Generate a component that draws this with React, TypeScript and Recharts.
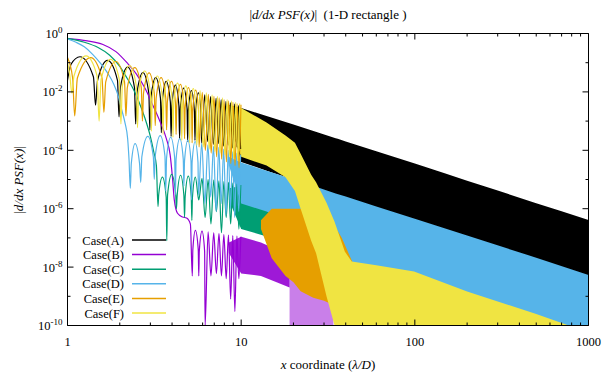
import React from "react";
import { ComposedChart, Line, Area, XAxis, YAxis } from "recharts";

// sparse part of each curve: [x, |d/dx PSF(x)|]
// (dip, shoulder, peak, shoulder) per lobe where the lobes are wide enough to see
const caseA: [number, number][] = [
  [1, 0.025], [1.05, 0.09], [1.18, 0.16], [1.41, 0.033],
  [1.45, 3.5e-3], [1.49, 0.025], [1.7, 0.12], [1.94, 0.025],
  [1.98, 1.4e-3], [2.02, 0.015], [2.22, 0.07], [2.43, 0.014],
  [2.47, 8e-4], [2.51, 0.009], [2.72, 0.046], [2.94, 0.009],
  [2.98, 5e-4], [3.02, 0.006], [3.22, 0.031], [3.43, 0.006],
  [3.47, 4e-4], [3.51, 0.0045], [3.7, 0.023], [3.91, 0.0045],
  [3.95, 3e-4], [3.99, 0.0034], [4.18, 0.017], [4.38, 0.0034],
  [4.42, 2.5e-4], [4.46, 0.0027], [4.67, 0.0135], [4.88, 0.0027],
  [4.92, 2e-4], [4.96, 0.0022], [5.17, 0.011], [5.38, 0.0022],
  [5.42, 2.2e-4], [5.46, 0.0018], [5.67, 0.0092], [5.88, 0.0018],
  [5.92, 1.8e-4], [6.17, 0.0079], [6.42, 2e-4], [6.67, 0.0069], [6.92, 1.6e-4], [7.17, 0.006],
  [7.42, 1.7e-4], [7.67, 0.0053], [7.92, 1.4e-4], [8.17, 0.0047], [8.42, 1.5e-4], [8.67, 0.0042],
  [8.92, 1.2e-4], [9.17, 0.0038], [9.42, 1.3e-4], [9.67, 0.0034], [9.92, 1.1e-4],
];

const caseB: [number, number][] = [
  [1, 0.67], [1.3, 0.56], [1.6, 0.42], [1.9, 0.24], [2.2, 0.1], [2.5, 0.04], [2.8, 0.013],
  [3.1, 3.5e-3], [3.4, 1e-3], [3.7, 2.6e-4], [3.9, 7e-5], [4.02, 1.2e-5], [4.12, 2e-6],
  [4.3, 7e-7], [4.6, 5.2e-7], [4.85, 4.8e-7], [5.1, 3e-7],
  [5.23, 5e-9], [5.27, 4e-8], [5.45, 1.8e-7], [5.66, 4e-8],
  [5.7, 5e-9], [5.74, 3.5e-8], [5.95, 1.7e-7], [6.16, 3.5e-8],
  [6.2, 1e-10], [6.45, 1.6e-7], [6.7, 5e-9], [6.95, 1.5e-7], [7.2, 6e-9], [7.45, 1.4e-7],
  [7.7, 5e-9], [7.95, 1.3e-7], [8.2, 4e-9], [8.45, 1.25e-7], [8.7, 8e-10], [8.95, 1.2e-7],
  [9.2, 3e-10], [9.45, 1.15e-7], [9.7, 4e-9], [9.95, 1.1e-7],
];

const caseC: [number, number][] = [
  [1, 0.68], [1.25, 0.5], [1.5, 0.33], [1.75, 0.18], [2.0, 0.075], [2.2, 0.03], [2.4, 0.012],
  [2.6, 4e-3], [2.8, 1.2e-3], [3.0, 3e-4], [3.15, 8e-5], [3.25, 3e-5],
  [3.32, 1.2e-6], [3.35, 3e-6], [3.52, 1.2e-5], [3.7, 2.5e-6],
  [3.73, 8e-8], [3.77, 3e-6], [3.98, 1.5e-5], [4.2, 3e-6],
  [4.24, 1e-6], [4.28, 2.8e-6], [4.48, 1.4e-5], [4.68, 2.8e-6],
  [4.72, 5e-7], [4.76, 2.6e-6], [4.96, 1.3e-5], [5.16, 2.6e-6],
  [5.2, 4e-7], [5.24, 2.4e-6], [5.45, 1.2e-5], [5.66, 2.4e-6],
  [5.7, 2e-6], [5.95, 1.1e-5], [6.2, 5e-7], [6.45, 1e-5], [6.7, 3e-7], [6.95, 9.5e-6],
  [7.2, 8e-7], [7.45, 9e-6], [7.7, 1.5e-7], [7.95, 8.5e-6], [8.2, 5e-7], [8.45, 8e-6],
  [8.7, 3e-7], [8.95, 7.5e-6], [9.2, 6e-7], [9.45, 7e-6], [9.7, 2e-7], [9.95, 6.5e-6],
];

const caseD: [number, number][] = [
  [1, 0.65], [1.12, 0.5], [1.25, 0.35], [1.4, 0.19], [1.55, 0.095], [1.7, 0.045], [1.85, 0.018],
  [1.95, 8e-3], [2.05, 2.5e-3], [2.15, 8e-4], [2.22, 2.5e-4], [2.26, 5e-5],
  [2.3, 5e-6], [2.33, 3.5e-5], [2.45, 1.7e-4], [2.6, 3.5e-5],
  [2.64, 8e-6], [2.68, 6e-5], [2.9, 3e-4], [3.12, 6e-5],
  [3.16, 1e-5], [3.2, 6.4e-5], [3.42, 3.2e-4], [3.64, 6.4e-5],
  [3.68, 4e-6], [3.72, 5.6e-5], [3.93, 2.8e-4], [4.14, 5.6e-5],
  [4.18, 3e-6], [4.22, 5e-5], [4.43, 2.5e-4], [4.64, 5e-5],
  [4.68, 6e-6], [4.72, 4.4e-5], [4.93, 2.2e-4], [5.14, 4.4e-5],
  [5.18, 2e-6], [5.22, 4e-5], [5.43, 2e-4], [5.64, 4e-5],
  [5.68, 3e-6], [5.93, 1.75e-4], [6.18, 1.5e-6], [6.43, 1.55e-4], [6.68, 2.5e-6],
  [6.93, 1.4e-4], [7.18, 8e-7], [7.43, 1.25e-4], [7.68, 1.5e-6], [7.93, 1.1e-4], [8.18, 6e-7],
  [8.43, 1e-4], [8.68, 1e-6], [8.93, 9e-5], [9.18, 5e-7], [9.43, 8e-5], [9.68, 8e-7],
  [9.93, 7e-5],
];

const caseE: [number, number][] = [
  [1, 0.15], [1.07, 0.03], [1.1, 1.5e-3], [1.14, 0.03], [1.36, 0.15], [1.58, 0.03],
  [1.62, 2e-3], [1.66, 0.022], [1.9, 0.11], [2.13, 0.022],
  [2.17, 1.5e-3], [2.21, 0.014], [2.44, 0.068], [2.66, 0.014],
  [2.7, 1e-3], [2.74, 0.009], [2.95, 0.045], [3.16, 0.009],
  [3.2, 7e-4], [3.24, 0.0062], [3.46, 0.031], [3.68, 0.0062],
  [3.72, 5e-4], [3.76, 0.0046], [3.97, 0.023], [4.18, 0.0046],
  [4.22, 3.5e-4], [4.26, 0.0036], [4.47, 0.018], [4.68, 0.0036],
  [4.72, 2.5e-4], [4.76, 0.0028], [4.97, 0.014], [5.18, 0.0028],
  [5.22, 1.8e-4], [5.26, 0.0023], [5.47, 0.0115], [5.68, 0.0023],
  [5.72, 1.3e-4], [5.97, 0.0096], [6.22, 1e-4], [6.47, 0.0082], [6.72, 8e-5],
  [6.97, 0.0071], [7.22, 6e-5], [7.47, 0.0062], [7.72, 5e-5], [7.97, 0.0055], [8.22, 4e-5],
  [8.47, 0.0049], [8.72, 3.5e-5], [8.97, 0.0044], [9.22, 3e-5], [9.47, 0.004], [9.72, 2.5e-5],
  [9.97, 0.0036],
];

const caseF: [number, number][] = [
  [1, 0.1], [1.03, 0.04], [1.06, 9e-3], [1.09, 0.035], [1.28, 0.17], [1.48, 0.035],
  [1.52, 1e-3], [1.56, 0.026], [1.77, 0.13], [1.99, 0.026],
  [2.03, 8e-4], [2.07, 0.016], [2.28, 0.08], [2.49, 0.016],
  [2.53, 6e-4], [2.57, 0.01], [2.78, 0.052], [3.0, 0.01],
  [3.04, 4.5e-4], [3.08, 0.007], [3.29, 0.035], [3.51, 0.007],
  [3.55, 3.5e-4], [3.59, 0.0052], [3.8, 0.026], [4.01, 0.0052],
  [4.05, 2.8e-4], [4.09, 0.004], [4.3, 0.02], [4.51, 0.004],
  [4.55, 2.2e-4], [4.59, 0.0032], [4.8, 0.016], [5.01, 0.0032],
  [5.05, 1.8e-4], [5.09, 0.0026], [5.3, 0.013], [5.51, 0.0026],
  [5.55, 1.5e-4], [5.8, 0.011], [6.05, 1.3e-4], [6.3, 0.0092], [6.55, 1.1e-4], [6.8, 0.008],
  [7.05, 9e-5], [7.3, 0.007], [7.55, 8e-5], [7.8, 0.0062], [8.05, 7e-5], [8.3, 0.0055],
  [8.55, 6e-5], [8.8, 0.0049], [9.05, 5e-5], [9.3, 0.0044], [9.55, 4.5e-5], [9.8, 0.004],
];

// dense part, where the oscillation fills in: [x, lower edge, upper edge]
const caseABand: [number, number, number][] = [
  [8.5, 1.5e-3, 3.5e-3], [10, 4e-5, 2.8e-3], [14, 2e-5, 1.5e-3], [20, 1e-5, 7.6e-4],
  [28, 5e-6, 4e-4], [35, 2e-7, 2.6e-4], [36, 1e-10, 2.5e-4], [40, 1e-10, 2e-4],
  [60, 1e-10, 9.2e-5], [100, 1e-10, 3.5e-5], [150, 1e-10, 1.6e-5], [200, 1e-10, 9.1e-6],
  [300, 1e-10, 4.2e-6], [500, 1e-10, 1.55e-6], [700, 1e-10, 8.2e-7], [1000, 1e-10, 4.1e-7],
];
const caseBBandComb: [number, number, number][] = [
  [8.5, 3e-8, 7e-8], [10, 6e-9, 1.1e-7], [13, 5e-9, 7e-8], [16, 3e-9, 4e-8], [19, 2e-9, 2.5e-8],
];
const caseBBand: [number, number, number][] = [
  [19, 1e-10, 2.5e-8], [25, 1e-10, 1.5e-8], [30, 1e-10, 8e-9], [34, 1e-10, 4e-9],
];
const caseCBand: [number, number, number][] = [
  [8.5, 2e-6, 5e-6], [10, 2e-7, 6e-6], [15, 1e-7, 3e-6], [20, 5e-8, 1.2e-6], [28, 1.5e-8, 6e-7],
  [40, 5e-9, 2e-7], [60, 2e-9, 6e-8], [100, 5e-10, 1.5e-8],
];
const caseDBand: [number, number, number][] = [
  [8.5, 3e-5, 6e-5], [10, 1.5e-6, 3.8e-5], [14, 8e-7, 2e-5], [20, 3e-7, 1e-5], [28, 5e-8, 5.2e-6],
  [35, 1e-9, 3.3e-6], [40, 1e-10, 2.6e-6], [60, 1e-10, 1.2e-6], [100, 1e-10, 4.5e-7],
  [200, 1e-10, 1.2e-7], [500, 1e-10, 2.1e-8], [1000, 1e-10, 5.4e-9],
];
const caseEBand: [number, number, number][] = [
  [13, 2e-7, 4e-7], [15, 2e-8, 1e-6], [18, 5e-9, 1e-6], [20, 3e-9, 1e-6], [22, 1.5e-9, 1e-6],
  [26, 9e-10, 8e-7], [30, 7e-10, 5e-7], [34, 5e-10, 3e-7], [38, 1e-10, 1e-7], [45, 1e-10, 1e-8],
  [55, 1e-10, 1e-9], [65, 1e-10, 1e-10],
];
const caseFBand: [number, number, number][] = [
  [8.5, 1e-3, 3.5e-3], [10, 6e-5, 2.8e-3], [14, 3e-5, 9e-4], [18, 1.2e-5, 3.2e-4],
  [20.4, 4e-6, 1.8e-4], [22, 1e-6, 7.6e-5], [25.3, 8e-8, 1.45e-5], [27, 3e-8, 8e-6],
  [31, 1e-9, 1.6e-6], [34.5, 1e-10, 3.6e-7], [39.5, 1e-10, 3.4e-8], [43.3, 1e-10, 1.55e-8],
  [60, 1e-10, 1.15e-8], [99, 1e-10, 7e-9], [200, 1e-10, 1.45e-9], [500, 1e-10, 2.5e-10],
  [770, 1e-10, 1e-10],
];

const xTicks = [
  1, 2, 3, 4, 5, 6, 7, 8, 9, 10, 20, 30, 40, 50, 60, 70, 80, 90,
  100, 200, 300, 400, 500, 600, 700, 800, 900, 1000,
];
const yTicks = [1e-10, 1e-9, 1e-8, 1e-7, 1e-6, 1e-5, 1e-4, 1e-3, 1e-2, 1e-1, 1];

const FONT = "'Liberation Serif', 'Times New Roman', serif";

const series = [
  { name: "Case(A)", color: "#000000", lobes: caseA, bands: [caseABand], opacity: [1] },
  { name: "Case(B)", color: "#9400d3", lobes: caseB, bands: [caseBBandComb, caseBBand], opacity: [0.9, 0.5] },
  { name: "Case(C)", color: "#009e73", lobes: caseC, bands: [caseCBand], opacity: [1] },
  { name: "Case(D)", color: "#56b4e9", lobes: caseD, bands: [caseDBand], opacity: [1] },
  { name: "Case(E)", color: "#e69f00", lobes: caseE, bands: [caseEBand], opacity: [1] },
  { name: "Case(F)", color: "#f0e442", lobes: caseF, bands: [caseFBand], opacity: [1] },
];

const toPoints = (arr: [number, number][]) => arr.map(([x, y]) => ({ x, y }));
const toBand = (arr: [number, number, number][]) =>
  arr.map(([x, lo, hi]) => ({ x, y: [lo, hi] }));

const isDecade = (v: number) => Math.abs(Math.log10(v) - Math.round(Math.log10(v))) < 1e-6;

const BottomTick = (props: any) => {
  const { x, y, payload } = props;
  const major = isDecade(payload.value);
  return (
    <g>
      <line x1={x} x2={x} y1={y} y2={y - (major ? 6 : 3)} stroke="#000" />
      {major && (
        <text x={x} y={y + 20} textAnchor="middle" fontSize={12.5} fontFamily={FONT} fill="#000">
          {payload.value}
        </text>
      )}
    </g>
  );
};

const TopTick = (props: any) => {
  const { x, y, payload } = props;
  const major = isDecade(payload.value);
  return <line x1={x} x2={x} y1={y} y2={y + (major ? 6 : 3)} stroke="#000" />;
};

const LeftTick = (props: any) => {
  const { x, y, payload } = props;
  const e = Math.round(Math.log10(payload.value));
  const major = e % 2 === 0;
  return (
    <g>
      <line x1={x} x2={x + (major ? 6 : 3)} y1={y} y2={y} stroke="#000" />
      {major && (
        <text x={x - 5} y={y + 4.5} textAnchor="end" fontSize={12.5} fontFamily={FONT} fill="#000">
          10<tspan dy={-5} fontSize={9}>{e}</tspan>
        </text>
      )}
    </g>
  );
};

const RightTick = (props: any) => {
  const { x, y, payload } = props;
  const e = Math.round(Math.log10(payload.value));
  const major = e % 2 === 0;
  return <line x1={x} x2={x - (major ? 6 : 3)} y1={y} y2={y} stroke="#000" />;
};

const legendRows = [240, 254.6, 269.2, 283.8, 298.4, 313];

export default function App() {
  return (
    <div style={{ position: "absolute", left: 0, top: 0, width: 604, height: 378, background: "#fff" }}>
      <ComposedChart width={604} height={378} margin={{ top: 0, right: 0, bottom: 0, left: 0 }}>
        <XAxis
          dataKey="x"
          type="number"
          scale="log"
          domain={[1, 1000]}
          allowDataOverflow
          ticks={xTicks}
          interval={0}
          height={52.5}
          tickSize={0}
          tickMargin={0}
          tickLine={false}
          axisLine={{ stroke: "#000" }}
          tick={<BottomTick />}
        />
        <XAxis
          xAxisId="top"
          orientation="top"
          dataKey="x"
          type="number"
          scale="log"
          domain={[1, 1000]}
          allowDataOverflow
          ticks={xTicks}
          interval={0}
          height={33.5}
          tickSize={0}
          tickMargin={0}
          tickLine={false}
          axisLine={{ stroke: "#000" }}
          tick={<TopTick />}
        />
        <YAxis
          type="number"
          scale="log"
          domain={[1e-10, 1]}
          allowDataOverflow
          ticks={yTicks}
          interval={0}
          width={67.5}
          tickSize={0}
          tickMargin={0}
          tickLine={false}
          axisLine={{ stroke: "#000" }}
          tick={<LeftTick />}
        />
        <YAxis
          yAxisId="right"
          orientation="right"
          type="number"
          scale="log"
          domain={[1e-10, 1]}
          allowDataOverflow
          ticks={yTicks}
          interval={0}
          width={15.5}
          tickSize={0}
          tickMargin={0}
          tickLine={false}
          axisLine={{ stroke: "#000" }}
          tick={<RightTick />}
        />
        {series.map((s) => (
          <React.Fragment key={s.name}>
            <Line
              data={toPoints(s.lobes)}
              dataKey="y"
              type="monotone"
              stroke={s.color}
              strokeWidth={1.2}
              dot={false}
              activeDot={false}
              isAnimationActive={false}
            />
            {s.bands.map((b, i) => (
              <Area
                key={i}
                data={toBand(b)}
                dataKey="y"
                type="linear"
                stroke="none"
                fill={s.color}
                fillOpacity={s.opacity[i]}
                activeDot={false}
                isAnimationActive={false}
              />
            ))}
          </React.Fragment>
        ))}
      </ComposedChart>
      <svg
        width={604}
        height={378}
        style={{ position: "absolute", left: 0, top: 0, pointerEvents: "none" }}
        fontFamily={FONT}
      >
        <text x={328} y={19} textAnchor="middle" fontSize={13} style={{ whiteSpace: "pre" }}>
          |<tspan fontStyle="italic">d/dx PSF(x)</tspan>|  (1-D rectangle )
        </text>
        <text x={328} y={369} textAnchor="middle" fontSize={13}>
          <tspan fontStyle="italic">x</tspan> coordinate (<tspan fontStyle="italic">λ/D</tspan>)
        </text>
        <text transform="translate(23,180) rotate(-90)" textAnchor="middle" fontSize={13}>
          |<tspan fontStyle="italic">d/dx PSF(x)</tspan>|
        </text>
        {series.map((s, i) => (
          <g key={s.name}>
            <text x={124} y={legendRows[i] + 4.5} textAnchor="end" fontSize={12.5}>
              {s.name}
            </text>
            <line x1={132} x2={166} y1={legendRows[i]} y2={legendRows[i]} stroke={s.color} strokeWidth={1.5} />
          </g>
        ))}
      </svg>
    </div>
  );
}
